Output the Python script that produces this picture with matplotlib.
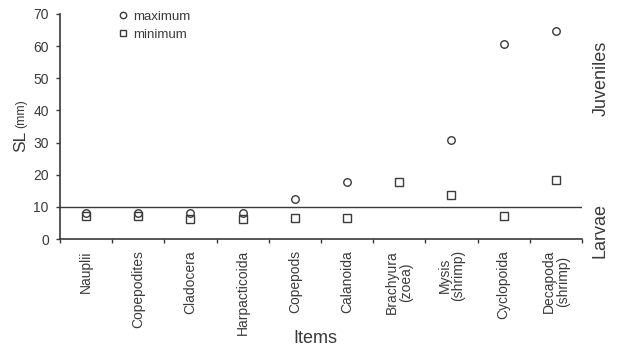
import numpy as np
import matplotlib.pyplot as plt

plt.rcParams['font.family'] = ['Liberation Sans', 'DejaVu Sans']

# Ukuran standar (SL, mm) per jenis mangsa
items = ['Nauplii', 'Copepodites', 'Cladocera', 'Harpacticoida', 'Copepods',
         'Calanoida', 'Brachyura\n(zoea)', 'Mysis\n(shrimp)', 'Cyclopoida',
         'Decapoda\n(shrimp)']
sl_max = [8.0, 8.0, 8.0, 8.0, 12.3, 17.8, np.nan, 30.8, 60.8, 64.8]
sl_min = [7.2, 7.2, 6.3, 6.3, 6.4, 6.4, 17.8, 13.6, 7.2, 18.3]
batas_larva = 10

ink = '#3a3a3a'

fig = plt.figure(figsize=(6.17, 3.48), dpi=100)
ax = fig.add_axes([0.0972, 0.3132, 0.846, 0.6466])

x = np.arange(len(items))
ax.plot(x, sl_max, 'o', ms=5.4, mfc='none', mec=ink, mew=1.0, ls='none', label='maximum')
ax.plot(x, sl_min, 's', ms=5.4, mfc='none', mec=ink, mew=1.0, ls='none', label='minimum')

# garis batas larva / juvenil
ax.axhline(batas_larva, color=ink, lw=1.0)

ax.set_xlim(-0.5, len(items) - 0.5)
ax.set_ylim(0, 70)
ax.set_yticks(range(0, 71, 10))
ax.set_xticks(x)
ax.set_xticklabels(items, rotation=90, fontsize=10, color=ink, linespacing=1.0)
ax.set_xticks(np.arange(-0.5, len(items)), minor=True)
ax.tick_params(axis='x', which='major', length=0, pad=8)
ax.tick_params(axis='x', which='minor', length=3, direction='out', width=1, color=ink)
ax.tick_params(axis='y', length=3, width=1, color=ink, labelsize=10, labelcolor=ink, pad=5)

for s in ['top', 'right']:
    ax.spines[s].set_visible(False)
for s in ['left', 'bottom']:
    ax.spines[s].set_color(ink)
    ax.spines[s].set_linewidth(1.2)

ax.set_xlabel('Items', fontsize=13, color=ink)
ax.xaxis.label.set_verticalalignment('baseline')
ax.xaxis.set_label_coords(0.4885, -0.462)

fig.text(0.034, 0.563, 'SL', rotation=90, fontsize=12.5, color=ink, ha='center', va='bottom')
fig.text(0.034, 0.632, '(mm)', rotation=90, fontsize=9, color=ink, ha='center', va='bottom')

fig.text(0.975, 0.776, 'Juveniles', rotation=90, fontsize=13, color=ink, ha='center', va='center')
fig.text(0.973, 0.339, 'Larvae', rotation=90, fontsize=13, color=ink, ha='center', va='center')

ax.legend(loc='upper left', bbox_to_anchor=(0.1, 1.04), frameon=False, fontsize=9.5,
          handletextpad=0.4, borderaxespad=0, labelspacing=0.45, handlelength=0.8,
          markerscale=0.85, labelcolor=ink)

fig.savefig('out.png', dpi=100)
